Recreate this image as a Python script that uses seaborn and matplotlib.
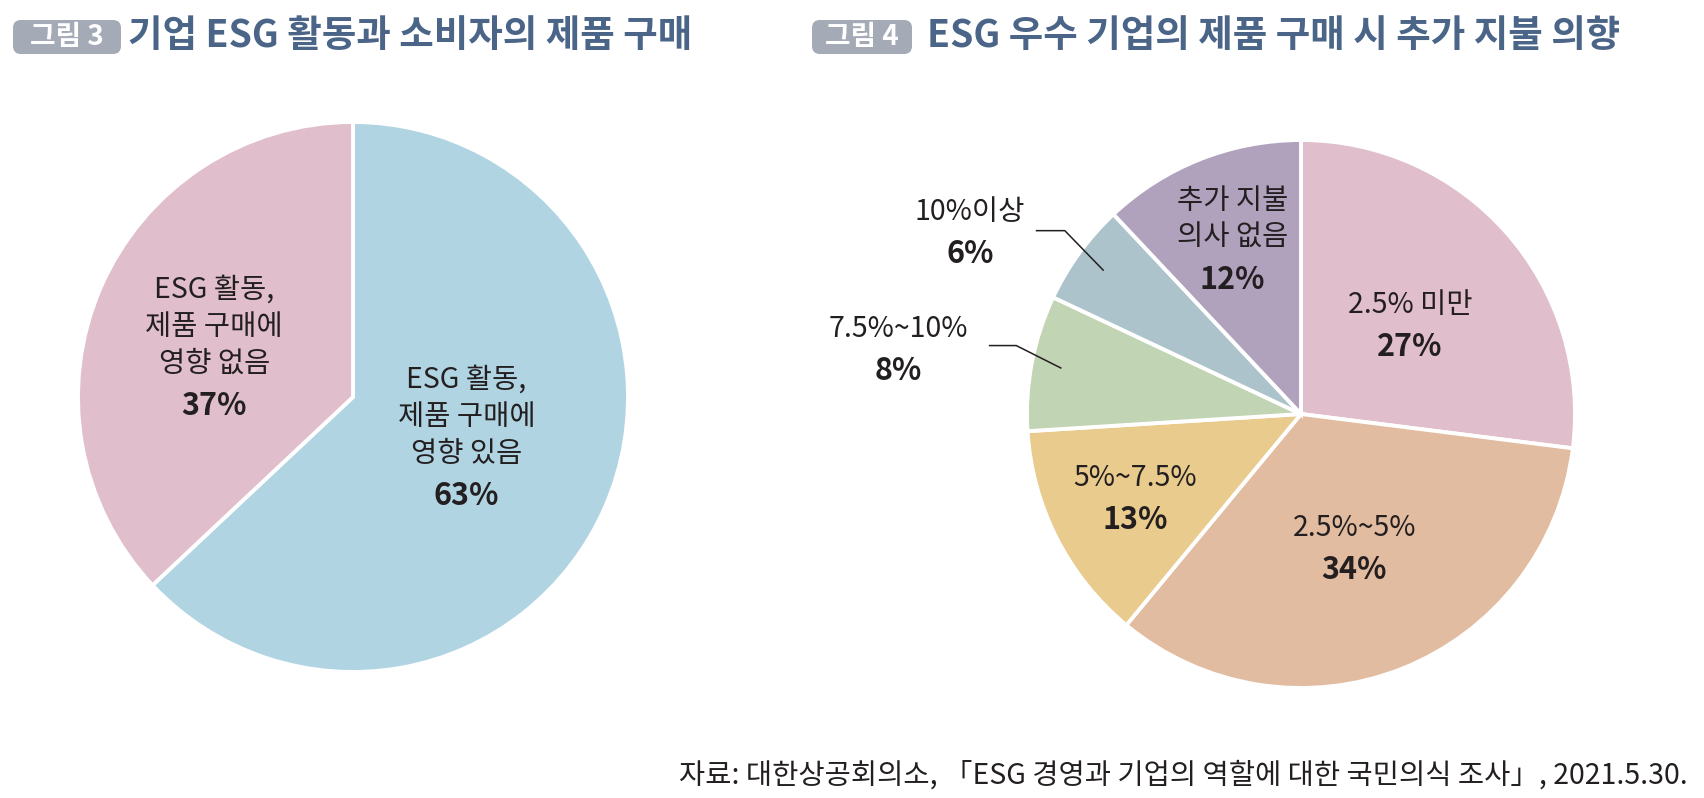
import matplotlib
matplotlib.use("Agg")
import matplotlib.pyplot as plt
from matplotlib.patches import FancyBboxPatch
import numpy as np
import seaborn as sns

sns.set_theme(style="white")
plt.rcParams['font.family'] = ['Noto Sans CJK KR', 'DejaVu Sans']

# ---- data ----
left_labels = ["ESG 활동,\n제품 구매에\n영향 있음", "ESG 활동,\n제품 구매에\n영향 없음"]
left_values = [63, 37]
left_colors = ["#B1D4E3", "#E0BECB"]

right_labels = ["2.5% 미만", "2.5%~5%", "5%~7.5%", "7.5%~10%", "10%이상", "추가 지불\n의사 없음"]
right_values = [27, 34, 13, 8, 6, 12]
right_colors = ["#E0BECB", "#E2BCA0", "#E8CB8D", "#C1D4B3", "#ADC3CC", "#B0A2BD"]

titles = ["기업 ESG 활동과 소비자의 제품 구매", "ESG 우수 기업의 제품 구매 시 추가 지불 의향"]
badges = ["그림 3", "그림 4"]
source = "자료: 대한상공회의소, 「ESG 경영과 기업의 역할에 대한 국민의식 조사」, 2021.5.30."

W, H = 1704, 798
fig = plt.figure(figsize=(W / 100, H / 100), dpi=100)
TXT = "#231F20"
TITLE_C = "#4A6587"
NAME_FS = 20.5
PCT_FS = 22


def make_ax(cx, cy, r):
    return fig.add_axes([(cx - r) / W, 1 - (cy + r) / H, 2 * r / W, 2 * r / H])


def draw_pie(ax, values, colors):
    wedges, _ = ax.pie(values, colors=colors, startangle=90, counterclock=False,
                       wedgeprops=dict(edgecolor="white", linewidth=2.8))
    ax.set_xlim(-1, 1)
    ax.set_ylim(-1, 1)
    ax.set_aspect("equal")
    ax.axis("off")
    return wedges


def mid(w):
    return np.deg2rad((w.theta1 + w.theta2) / 2)


def block(ax, x, yc, name, pct, R):
    """Draw name lines + bold percentage as a block centred at (x, yc)."""
    lines = name.split("\n")
    pitch = 37 / R
    pgap = 42 / R
    total = pitch * (len(lines) - 1) + pgap
    y = yc + total / 2
    for ln in lines:
        ax.text(x, y, ln, ha="center", va="center", fontsize=NAME_FS, color=TXT, clip_on=False)
        y -= pitch
    y += pitch
    ax.text(x, y - pgap, f"{pct}%", ha="center", va="center", fontsize=PCT_FS,
            fontweight="bold", color=TXT, clip_on=False)


# ---- left pie ----
RL = 275
axL = make_ax(353, 397, RL)
wl = draw_pie(axL, left_values, left_colors)
style_l = [(0.45, 0.03), (0.55, -0.04)]
for w, lab, v, (r, dy) in zip(wl, left_labels, left_values, style_l):
    a = mid(w)
    block(axL, r * np.cos(a), r * np.sin(a) + dy, lab, v, RL)

# ---- right pie ----
RR = 274
axR = make_ax(1301, 414, RR)
wr = draw_pie(axR, right_values, right_colors)
style_r = {0: (0.53, -0.03), 1: (0.53, 0.0), 2: (0.68, 0.0), 5: (0.68, 0.0)}
for i, (r, dy) in style_r.items():
    a = mid(wr[i])
    block(axR, r * np.cos(a), r * np.sin(a) + dy, right_labels[i], right_values[i], RR)

# outside labels with leader lines
outside = {3: dict(elbow=(-0.165, 0.083), horiz=0.10, tx=-1.47, ty=0.235),
           4: dict(elbow=(-0.142, 0.146), horiz=0.106, tx=-1.208, ty=0.66)}
for i, o in outside.items():
    a = mid(wr[i])
    ex, ey = 0.89 * np.cos(a), 0.89 * np.sin(a)
    bx, by = ex + o["elbow"][0], ey + o["elbow"][1]
    hx = bx - o["horiz"]
    axR.plot([ex, bx, hx], [ey, by, by], color=TXT, lw=1.1, solid_capstyle="butt", clip_on=False)
    block(axR, o["tx"], o["ty"], right_labels[i], right_values[i], RR)

# ---- titles with badges ----
for (bx0, bx1, tx), badge, title in zip([(13, 121, 128), (812, 912, 927)], badges, titles):
    y0, y1 = 20, 54
    patch = FancyBboxPatch((bx0 / 100, (H - y1) / 100), (bx1 - bx0) / 100, (y1 - y0) / 100,
                           boxstyle="round,pad=0,rounding_size=0.08",
                           transform=fig.dpi_scale_trans, facecolor="#A4AAB6", edgecolor="none")
    fig.patches.append(patch)
    fig.text((bx0 + bx1) / 2 / W, 1 - 37 / H, badge, ha="center", va="center",
             fontsize=20, fontweight="bold", color="white")
    fig.text(tx / W, 1 - 36 / H, title, ha="left", va="center", fontsize=27,
             fontweight="bold", color=TITLE_C)

fig.text(1688 / W, 1 - 776 / H, source, ha="right", va="center", fontsize=20.5, color=TXT)

fig.savefig("out.png", dpi=100)
